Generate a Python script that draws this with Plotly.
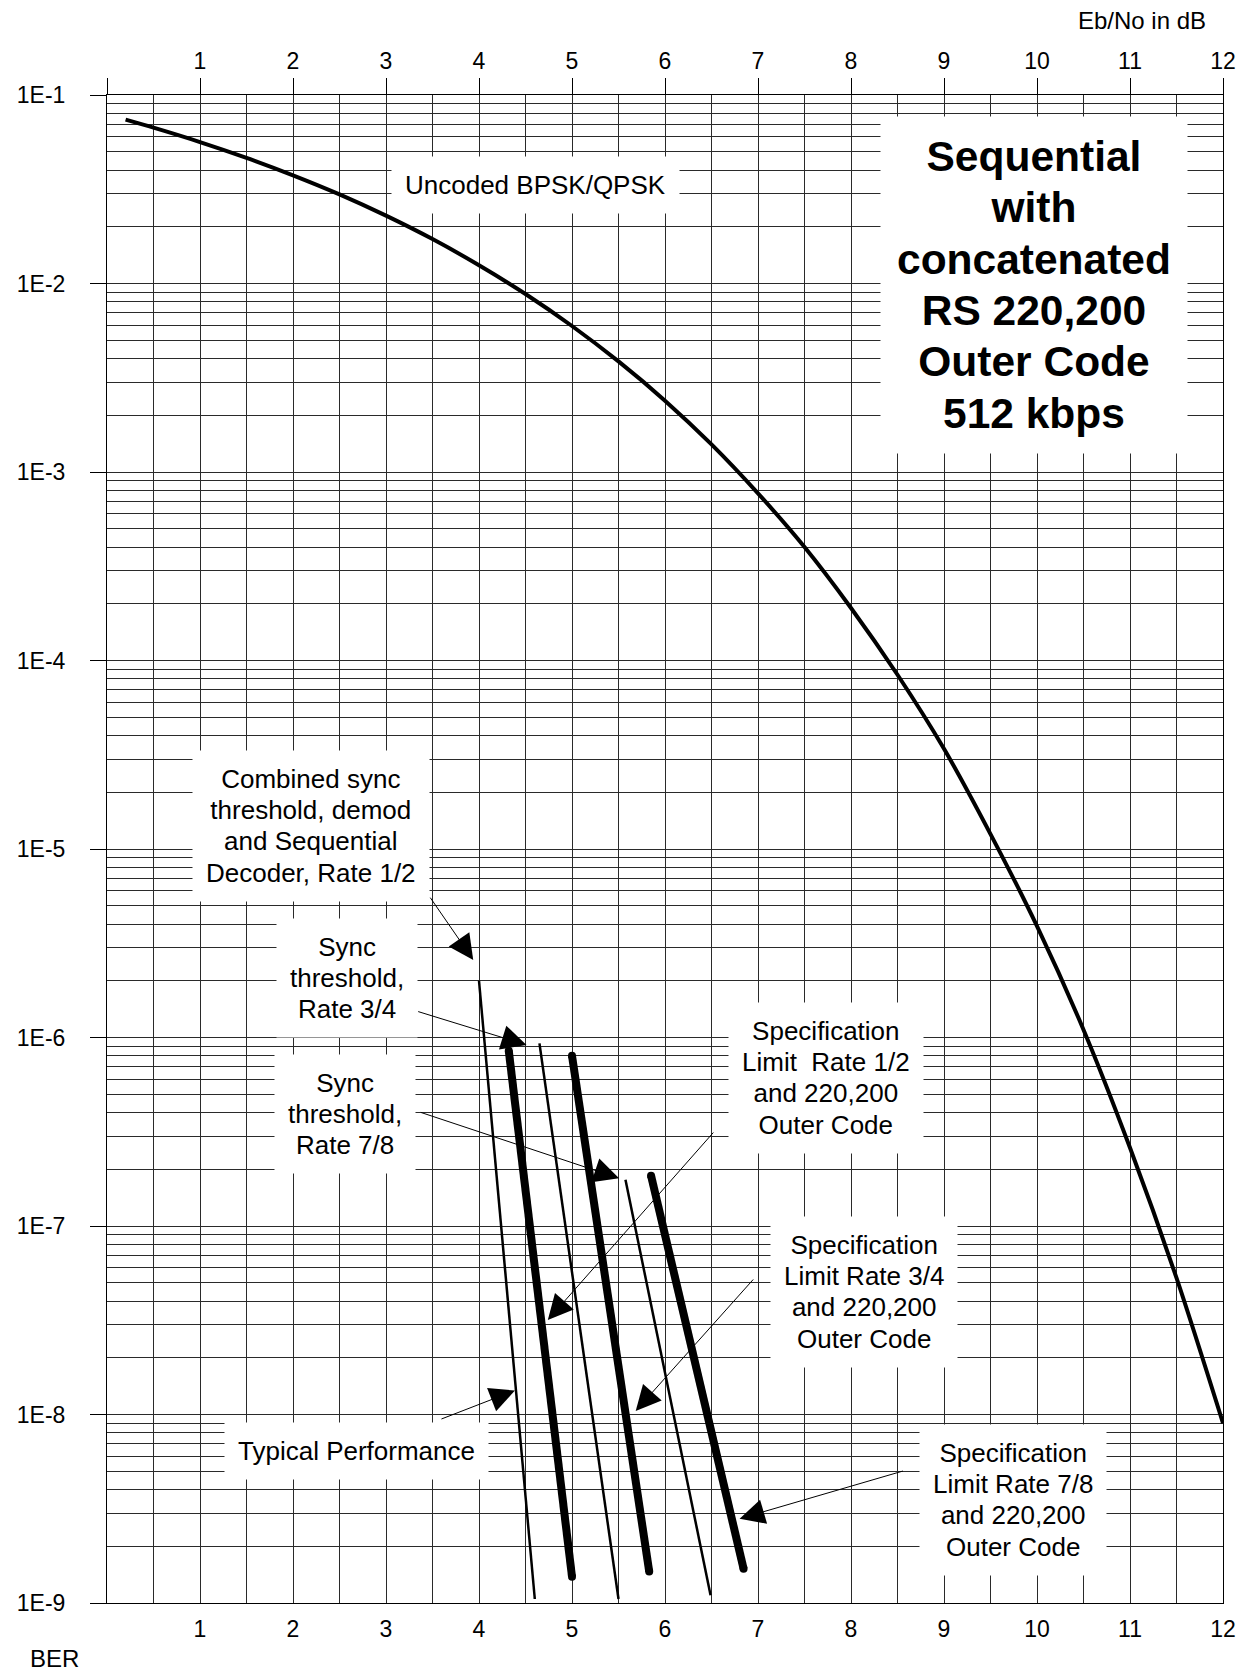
import math
import plotly.graph_objects as go

# ---------------- data ----------------
# Uncoded BPSK/QPSK reference curve
uncoded_ebno = [0.2, 0.5, 1.0, 1.5, 2.0, 2.5, 3.0, 3.5, 4.0, 4.5, 5.0, 5.5, 6.0,
                6.5, 7.0, 7.5, 8.0, 8.5, 9.0, 9.5, 10.0, 10.5, 11.0, 11.5, 12.0]
uncoded_ber = [0.074, 0.0671, 0.0563, 0.0464, 0.0375, 0.0297, 0.0229, 0.0172,
               0.0125, 0.0088, 0.00595, 0.00386, 0.00239, 0.0014, 7.7e-4,
               4.0e-4, 1.9e-4, 8.4e-5, 3.4e-5, 1.2e-5, 3.9e-6, 1.1e-6,
               2.6e-7, 5.3e-8, 9.0e-9]

# Thin lines: typical performance (Rate 1/2, 3/4, 7/8)
typical_names = ["Typical Rate 1/2", "Typical Rate 3/4", "Typical Rate 7/8"]
typical_ebno = [[4.0, 4.6], [4.65, 5.5], [5.575, 6.49]]
typical_ber = [[2.0e-6, 1.05e-9], [9.3e-7, 1.05e-9], [1.76e-7, 1.1e-9]]

# Thick lines: specification limits (Rate 1/2, 3/4, 7/8 with RS 220,200)
spec_names = ["Spec Rate 1/2", "Spec Rate 3/4", "Spec Rate 7/8"]
spec_ebno = [[4.32, 5.0], [5.0, 5.83], [5.85, 6.845]]
spec_ber = [[8.5e-7, 1.38e-9], [8.0e-7, 1.47e-9], [1.85e-7, 1.52e-9]]

x_tick_vals = list(range(1, 13))
x_tick_text = [str(v) for v in x_tick_vals]
y_tick_exps = [-1, -2, -3, -4, -5, -6, -7, -8, -9]
y_tick_text = ["1E%d" % e for e in y_tick_exps]

# annotation texts: (text, x, ber)
labels = [
    ("Uncoded BPSK/QPSK", 4.61, 0.0332),
    ("Combined sync<br>threshold, demod<br>and Sequential<br>Decoder, Rate 1/2", 2.19, 1.33e-5),
    ("Sync<br>threshold,<br>Rate 3/4", 2.576, 2.08e-6),
    ("Sync<br>threshold,<br>Rate 7/8", 2.56, 3.94e-7),
    ("Specification<br>Limit\u00a0 Rate 1/2<br>and 220,200<br>Outer Code", 7.734, 6.1e-7),
    ("Specification<br>Limit Rate 3/4<br>and 220,200<br>Outer Code", 8.145, 4.47e-8),
    ("Typical Performance", 2.678, 6.41e-9),
    ("Specification<br>Limit Rate 7/8<br>and 220,200<br>Outer Code", 9.738, 3.52e-9),
]
title_lines = ["Sequential", "with", "concatenated", "RS 220,200", "Outer Code", "512 kbps"]
title_pos = (9.97, 9.8e-3)

# arrows: (tail x, tail ber, head x, head ber)
arrows = [
    (3.465, 5.62e-6, 3.938, 2.58e-6),
    (3.33, 1.38e-6, 4.511, 9.13e-7),
    (3.358, 4.03e-7, 5.506, 1.79e-7),
    (6.534, 3.19e-7, 4.74, 3.17e-8),
    (6.963, 5.3e-8, 5.685, 1.045e-8),
    (3.58, 9.4e-9, 4.386, 1.34e-8),
    (8.575, 5.04e-9, 6.802, 2.8e-9),
]

# ---------------- figure ----------------
FONT = "Liberation Sans, Arial, Helvetica, sans-serif"
GRID = "#2a2a2a"


def sized(text, px):
    # glyph size larger than the base size so line spacing stays tight
    return "<br>".join('<span style="font-size:%gpx">%s</span>' % (px, t)
                       for t in text.split("<br>"))


fig = go.Figure()

fig.add_trace(go.Scatter(
    x=uncoded_ebno, y=uncoded_ber, mode="lines", xaxis="x2",
    line=dict(color="black", width=4, shape="spline", smoothing=0.8),
    name="Uncoded BPSK/QPSK", hoverinfo="x+y"))

for nm, xs, ys in zip(typical_names, typical_ebno, typical_ber):
    fig.add_trace(go.Scatter(x=xs, y=ys, mode="lines", name=nm,
                             line=dict(color="black", width=2.5)))

for nm, xs, ys in zip(spec_names, spec_ebno, spec_ber):
    fig.add_trace(go.Scatter(x=xs, y=ys, mode="lines+markers", name=nm,
                             line=dict(color="black", width=8),
                             marker=dict(color="black", size=8)))

annotations = []
for text, x, ber in labels:
    annotations.append(dict(
        text=sized(text, 26), x=x, y=math.log10(ber), xref="x", yref="y",
        showarrow=False, bgcolor="white", borderpad=13,
        font=dict(family=FONT, size=24, color="black"),
        xanchor="center", yanchor="middle", align="center"))

annotations.append(dict(
    text="<b>" + sized("<br>".join(title_lines), 42.5) + "</b>",
    x=title_pos[0], y=math.log10(title_pos[1]),
    xref="x", yref="y", showarrow=False, bgcolor="white", borderpad=16,
    font=dict(family=FONT, size=39.5, color="black"),
    xanchor="center", yanchor="middle", align="center"))

for tx, tb, hx, hb in arrows:
    annotations.append(dict(
        text="", x=hx, y=math.log10(hb), xref="x", yref="y",
        ax=tx, ay=math.log10(tb), axref="x", ayref="y",
        showarrow=True, arrowhead=2, arrowsize=5, arrowwidth=1,
        arrowcolor="black", standoff=0, startstandoff=0))

annotations.append(dict(
    text="Eb/No in dB", xref="paper", yref="paper", x=0.9866, y=1.0497,
    xanchor="right", yanchor="middle", showarrow=False,
    font=dict(family=FONT, size=24, color="black")))
annotations.append(dict(
    text="BER", xref="paper", yref="paper", x=-0.0466, y=-0.0365,
    xanchor="center", yanchor="middle", showarrow=False,
    font=dict(family=FONT, size=24, color="black")))

x_minor = [i * 0.5 for i in range(1, 24)]
y_minor = [m * 10.0 ** e for e in range(-9, -1) for m in range(2, 10)]

fig.update_layout(
    width=1252, height=1671,
    margin=dict(l=107, r=29, t=95, b=68, pad=0),
    paper_bgcolor="white", plot_bgcolor="white",
    showlegend=False,
    font=dict(family=FONT, size=23, color="black"),
    xaxis=dict(
        range=[0, 12], tickmode="array", tickvals=x_tick_vals, ticktext=x_tick_text,
        ticks="", showgrid=True, gridcolor=GRID, gridwidth=1,
        minor=dict(tickmode="array", tickvals=x_minor, showgrid=True,
                   gridcolor=GRID, gridwidth=1, ticks=""),
        showline=True, linecolor="black", linewidth=1, mirror=True,
        zeroline=False, ticklabelstandoff=5,
        tickfont=dict(family=FONT, size=23, color="black")),
    xaxis2=dict(
        overlaying="x", side="top", matches="x", anchor="y",
        tickmode="array", tickvals=[0] + x_tick_vals, ticktext=[""] + x_tick_text,
        ticks="outside", ticklen=16, tickcolor="black", tickwidth=1,
        showgrid=False, zeroline=False, showline=False, ticklabelstandoff=0,
        tickfont=dict(family=FONT, size=23, color="black")),
    yaxis=dict(
        type="log", range=[-9, -1], tickmode="array",
        tickvals=[10.0 ** e for e in y_tick_exps], ticktext=y_tick_text,
        ticks="outside", ticklen=16, tickcolor="black", tickwidth=1,
        showgrid=True, gridcolor=GRID, gridwidth=1,
        minor=dict(tickmode="array", tickvals=y_minor, showgrid=True,
                   gridcolor=GRID, gridwidth=1, ticks=""),
        showline=True, linecolor="black", linewidth=1, mirror=True,
        zeroline=False, ticklabelstandoff=20,
        tickfont=dict(family=FONT, size=23, color="black")),
    annotations=annotations,
)

fig.write_html("out.html", config={"displayModeBar": False},
               post_script="document.body.style.margin='0';document.body.style.overflow='hidden';")
